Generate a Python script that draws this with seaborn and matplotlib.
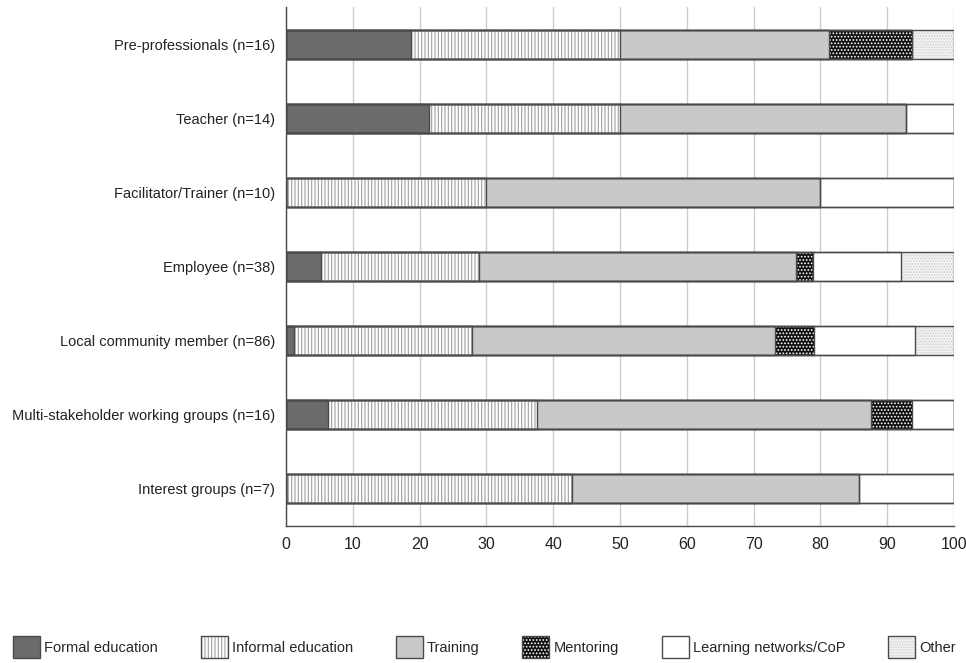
import matplotlib
matplotlib.use("Agg")
import matplotlib.pyplot as plt
import seaborn as sns
import pandas as pd
import numpy as np
from matplotlib.patches import Patch

# --- DATA (percent of respondents per group) ---
groups = [
    "Pre-professionals (n=16)",
    "Teacher (n=14)",
    "Facilitator/Trainer (n=10)",
    "Employee (n=38)",
    "Local community member (n=86)",
    "Multi-stakeholder working groups (n=16)",
    "Interest groups (n=7)",
]
series = ["Formal education", "Informal education", "Training",
          "Mentoring", "Learning networks/CoP", "Other"]

formal = [18.75, 21.43, 0.0, 5.26, 1.16, 6.25, 0.0]
informal = [31.25, 28.57, 30.0, 23.68, 26.74, 31.25, 42.86]
training = [31.25, 42.86, 50.0, 47.37, 45.35, 50.0, 42.86]
mentoring = [12.5, 0.0, 0.0, 2.63, 5.81, 6.25, 0.0]
networks = [0.0, 7.14, 20.0, 13.16, 15.12, 6.25, 14.28]
other = [6.25, 0.0, 0.0, 7.89, 5.81, 0.0, 0.0]

x_ticks = [0, 10, 20, 30, 40, 50, 60, 70, 80, 90, 100]

# --- STYLE per series: face, hatch colour, hatch ---
styles = {
    "Formal education": ("#6b6b6b", "#6b6b6b", None),
    "Informal education": ("#ffffff", "#a0a0a0", "|||||"),
    "Training": ("#c9c9c9", "#c9c9c9", None),
    "Mentoring": ("#111111", "#ffffff", "....."),
    "Learning networks/CoP": ("#ffffff", "#ffffff", None),
    "Other": ("#f3f3f3", "#cfcfcf", "......"),
}
OUTLINE = "#4a4a4a"

sns.set_style("white")
plt.rcParams["font.family"] = ["Liberation Sans", "DejaVu Sans"]
plt.rcParams["hatch.linewidth"] = 0.8

df = pd.DataFrame({"Group": groups, "Formal education": formal,
                   "Informal education": informal, "Training": training,
                   "Mentoring": mentoring, "Learning networks/CoP": networks,
                   "Other": other})
cum = df[series].cumsum(axis=1)

fig = plt.figure(figsize=(9.66, 6.63), dpi=100)
ax = fig.add_axes([286 / 966, 1 - 526 / 663, (954 - 286) / 966, (526 - 7) / 663])

# draw cumulative bars from the longest to the shortest so segments stack
for s in reversed(series):
    face, hcol, hatch = styles[s]
    tmp = pd.DataFrame({"Group": groups, "val": cum[s].values})
    sns.barplot(data=tmp, x="val", y="Group", orient="h", color=face,
                saturation=1, width=0.39, edgecolor=hcol, linewidth=0,
                hatch=hatch, ax=ax, zorder=2)
    sns.barplot(data=tmp, x="val", y="Group", orient="h", fill=False,
                width=0.39, edgecolor=OUTLINE, linewidth=1.0, ax=ax, zorder=3)

ax.set_xlim(0, 100)
ax.set_ylim(6.5, -0.5)
ax.set_xticks(x_ticks)
ax.set_xticklabels([str(t) for t in x_ticks])
ax.set_xlabel("")
ax.set_ylabel("")
ax.xaxis.grid(True, color="#cccccc", linewidth=1.0, zorder=0)
ax.yaxis.grid(False)
ax.set_axisbelow(True)
for side in ["top", "right"]:
    ax.spines[side].set_visible(False)
for side in ["left", "bottom"]:
    ax.spines[side].set_color(OUTLINE)
    ax.spines[side].set_linewidth(1.0)
ax.tick_params(axis="both", length=0, colors="#222222")
ax.tick_params(axis="y", pad=8, labelsize=10.5)
ax.tick_params(axis="x", pad=8, labelsize=11.5)

# legend handles: hatched patch + outline overlay
handles = []
for s in series:
    face, hcol, hatch = styles[s]
    h1 = Patch(facecolor=face, edgecolor=hcol, hatch=hatch, linewidth=0)
    h2 = Patch(facecolor="none", edgecolor=OUTLINE, linewidth=1.0)
    handles.append((h1, h2))
fig.legend(handles, series, loc="center left", bbox_to_anchor=(0.0135, 0.024),
           ncol=6, frameon=False, fontsize=10.5, handlelength=1.85,
           handleheight=1.92, handletextpad=0.27, columnspacing=2.95,
           borderaxespad=0, borderpad=0)

fig.savefig("out.png", dpi=100)
